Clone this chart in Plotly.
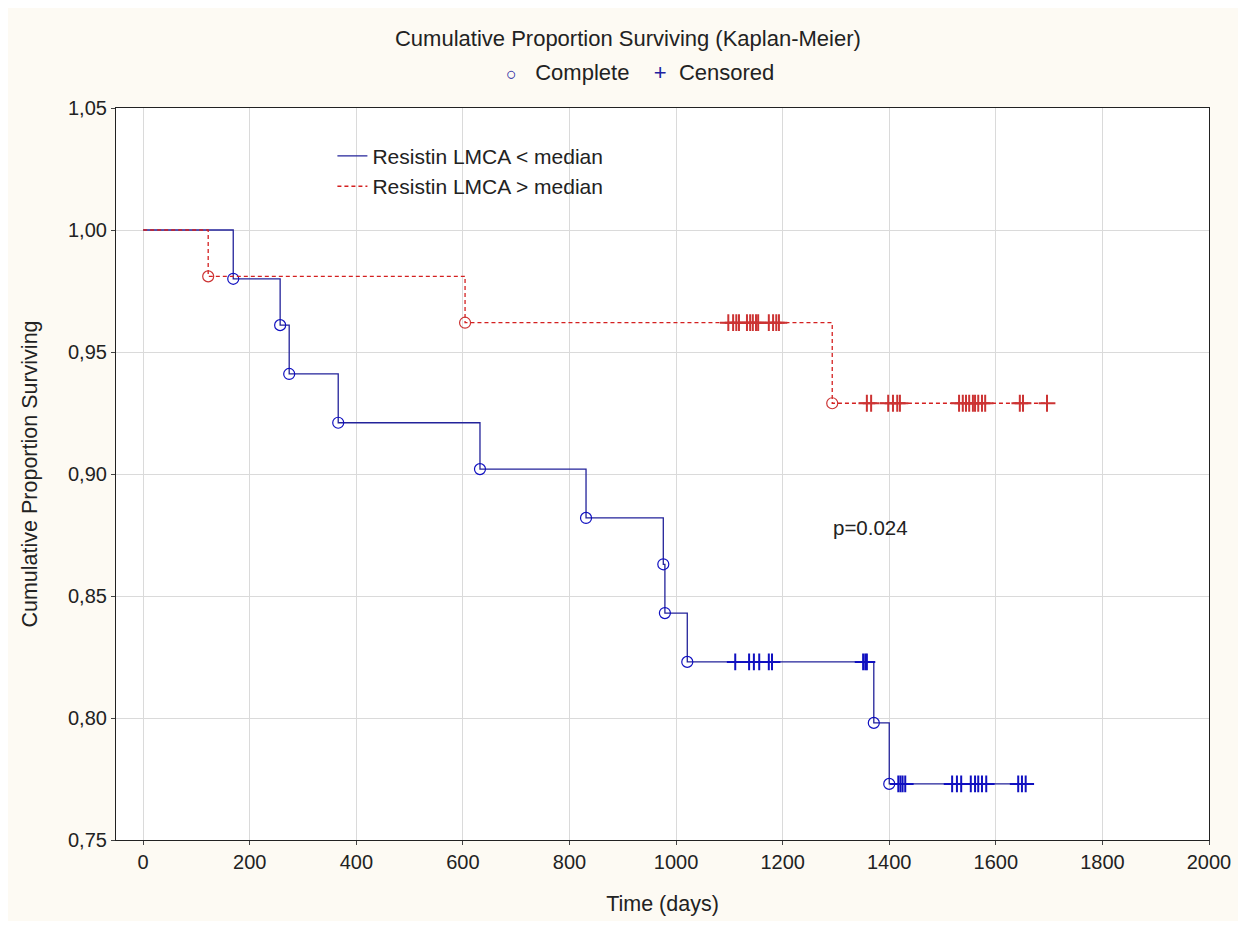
import plotly.graph_objects as go

# ---- data ----
low_event_days = [169, 257, 274, 366, 632, 831, 976, 979, 1021, 1371, 1400]
low_event_surv = [0.980, 0.961, 0.941, 0.921, 0.902, 0.882, 0.863, 0.843, 0.823, 0.798, 0.773]
low_cens_days = [1111, 1137, 1146, 1156, 1174, 1180, 1351, 1355, 1358,
                 1417, 1421, 1425, 1430, 1518, 1527, 1535, 1553, 1561, 1567,
                 1574, 1582, 1642, 1649, 1656]

high_event_days = [122, 604, 1293]
high_event_surv = [0.981, 0.962, 0.929]
high_cens_days = [1098, 1107, 1113, 1118, 1133, 1139, 1144, 1150, 1154,
                  1174, 1182, 1188, 1193,
                  1358, 1366, 1398, 1407, 1415, 1420, 1531, 1538, 1544, 1550,
                  1557, 1561, 1567, 1574, 1580, 1645, 1651, 1696]

x_ticks = [0, 200, 400, 600, 800, 1000, 1200, 1400, 1600, 1800, 2000]
y_ticks = [0.75, 0.80, 0.85, 0.90, 0.95, 1.00, 1.05]

names = ["Resistin LMCA < median", "Resistin LMCA > median"]
p_text = "p=0.024"

BLUE_LINE = "#23239a"
BLUE_MARK = "#1010c0"
RED_LINE = "#d42020"
RED_MARK = "#cc3333"
FONT = "Arial, Liberation Sans, sans-serif"
FS_TICK = 20
FS_TEXT = 21.5


def level_at(t, ev_days, ev_surv):
    s = 1.0
    for d, v in zip(ev_days, ev_surv):
        if d <= t:
            s = v
    return s


fig = go.Figure()

groups = [
    (low_event_days, low_event_surv, low_cens_days, names[0], BLUE_LINE, BLUE_MARK, "solid"),
    (high_event_days, high_event_surv, high_cens_days, names[1], RED_LINE, RED_MARK, "dash"),
]

for i, (ed, es, cd, nm, lc, mc, dash) in enumerate(groups):
    last_t = max(cd)
    xs = [0] + ed + [last_t]
    ys = [1.0] + es + [es[-1]]
    fig.add_trace(go.Scatter(
        x=xs, y=ys, mode="lines", name=nm, legendgroup="g%d" % i,
        line=dict(color=lc, width=1.3, dash="4px,3px" if dash == "dash" else "solid", shape="hv"),
        hoverinfo="skip",
    ))
    fig.add_trace(go.Scatter(
        x=ed, y=es, mode="markers", showlegend=False,
        marker=dict(symbol="circle-open", size=11, color=mc, line=dict(width=1.2, color=mc)),
    ))
    fig.add_trace(go.Scatter(
        x=cd, y=[level_at(t, ed, es) for t in cd], mode="markers", showlegend=False,
        marker=dict(symbol="cross-thin-open", size=12, color=mc, line=dict(width=2, color=mc)),
    ))

fig.add_annotation(
    x=1365, y=0.878, xref="x", yref="y", text=p_text, showarrow=False,
    font=dict(family=FONT, size=FS_TEXT - 1, color="#222222"),
)

fig.add_annotation(
    x=0.479, y=1.048, xref="paper", yref="paper", xanchor="center", yanchor="middle",
    text='<span style="color:#2020a0;font-size:18px">○</span>   Complete    '
         '<span style="color:#2020a0">+</span>  Censored',
    showarrow=False, font=dict(family=FONT, size=22, color="#222222"),
)

fig.update_layout(
    width=1230, height=913,
    margin=dict(l=108, r=29, t=100, b=81),
    paper_bgcolor="#fdfaf3",
    plot_bgcolor="#ffffff",
    separators=",.",
    font=dict(family=FONT, size=FS_TEXT, color="#222222"),
    title=dict(
        text="Cumulative Proportion Surviving (Kaplan-Meier)",
        x=0.504, xanchor="center", y=0.967, yanchor="middle",
        font=dict(family=FONT, size=22, color="#222222"),
    ),
    showlegend=True,
    legend=dict(
        x=0.198, y=0.962, xanchor="left", yanchor="top",
        bgcolor="rgba(0,0,0,0)", tracegroupgap=0,
        font=dict(family=FONT, size=21, color="#222222"),
    ),
)

fig.update_xaxes(
    range=[-51, 2000], tickvals=x_ticks, tickformat="d", automargin=False,
    showgrid=True, gridcolor="#dadada", gridwidth=1,
    showline=True, linecolor="#222222", linewidth=1.2, mirror=True,
    ticks="outside", ticklen=4, tickcolor="#444444",
    zeroline=False,
    title=dict(text="Time (days)", font=dict(family=FONT, size=FS_TEXT), standoff=23),
    tickfont=dict(family=FONT, size=FS_TICK, color="#222222"),
)
fig.update_yaxes(
    range=[0.75, 1.05], tickvals=y_ticks, tickformat=".2f", automargin=False,
    showgrid=True, gridcolor="#dadada", gridwidth=1,
    showline=True, linecolor="#222222", linewidth=1.2, mirror=True,
    ticks="outside", ticklen=4, tickcolor="#444444",
    zeroline=False,
    title=dict(text="Cumulative Proportion Surviving", font=dict(family=FONT, size=FS_TEXT), standoff=24),
    tickfont=dict(family=FONT, size=FS_TICK, color="#222222"),
)

fig.write_html("out.html")
